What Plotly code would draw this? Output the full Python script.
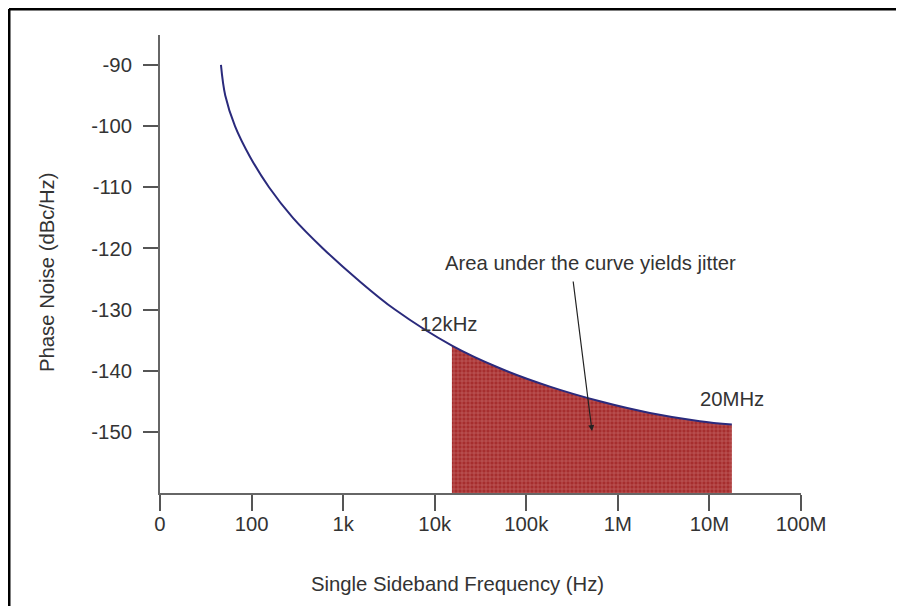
import plotly.graph_objects as go

# Data
freq_hz = [46.3, 51.6, 65.9, 96, 155, 283, 602, 1415, 3677, 15410,
           51500, 181000, 636000, 2.236e6, 7.86e6, 1.756e7]
phase_noise = [-90, -95, -100, -105, -110, -115, -120, -125, -130, -135.9,
               -139.6, -142.6, -145.0, -146.9, -148.25, -148.8]
integration_start_hz = 15410
integration_stop_hz = 1.756e7
x_tickvals = [10, 100, 1e3, 1e4, 1e5, 1e6, 1e7, 1e8]
x_ticktext = ["0", "100", "1k", "10k", "100k", "1M", "10M", "100M"]
y_tickvals = [-150, -140, -130, -120, -110, -100, -90]
y_ticktext = ["-150", "-140", "-130", "-120", "-110", "-100", "-90"]

OFF = 8  # page body margin
W, H = 896, 598
L, R, T, B = 152, 103, 27, 113
PW, PH = W - L - R, H - T - B


def xp(px):
    return (px - OFF - L) / PW


def yp(py):
    return (H - B - (py - OFF)) / PH


FONT = "Liberation Sans, Arial, sans-serif"
FS = 20.3
TXT = "#333333"

band = [(f, p) for f, p in zip(freq_hz, phase_noise)
        if integration_start_hz <= f <= integration_stop_hz]
band_f = [b[0] for b in band]
band_p = [b[1] for b in band]

fig = go.Figure()
# baseline for the shaded integration band
fig.add_trace(go.Scatter(x=[integration_start_hz, integration_stop_hz],
                         y=[-160, -160], mode="lines",
                         line=dict(width=0, color="rgba(0,0,0,0)"),
                         hoverinfo="skip"))
fig.add_trace(go.Scatter(x=band_f, y=band_p, mode="lines",
                         line=dict(width=0, shape="spline", color="rgba(0,0,0,0)"),
                         fill="tonexty", fillcolor="#a83232",
                         fillpattern=dict(shape="+", fgcolor="#e3a0a0",
                                          bgcolor="#a62e2e", size=4, solidity=0.3),
                         hoverinfo="skip"))
fig.add_trace(go.Scatter(x=freq_hz, y=phase_noise, mode="lines",
                         line=dict(color="#2a2a7c", width=2, shape="spline")))

fig.update_layout(
    width=W, height=H, showlegend=False,
    margin=dict(l=L, r=R, t=T, b=B),
    paper_bgcolor="white", plot_bgcolor="white",
    font=dict(family=FONT, size=FS, color=TXT),
    xaxis=dict(type="log", range=[1, 8], tickvals=x_tickvals, ticktext=x_ticktext,
               showgrid=False, zeroline=False, showline=True, linecolor="#666666",
               linewidth=2, ticks="outside", ticklen=16, tickwidth=1.5,
               tickcolor="#555555", ticklabelstandoff=-4,
               tickfont=dict(size=FS, color=TXT)),
    yaxis=dict(range=[-160, -85.1], tickvals=y_tickvals, ticktext=y_ticktext,
               showgrid=False, zeroline=False, showline=True, linecolor="#666666",
               linewidth=2, ticks="outside", ticklen=15, tickwidth=1.5,
               tickcolor="#555555", ticklabelstandoff=7,
               tickfont=dict(size=FS, color=TXT)),
)

ann = [
    dict(text="Single Sideband Frequency (Hz)", x=xp(457), y=yp(584)),
    dict(text="Phase Noise (dBc/Hz)", x=xp(47), y=yp(272), textangle=-90),
    dict(text="12kHz", x=xp(449), y=yp(324)),
    dict(text="20MHz", x=xp(732), y=yp(399)),
    dict(text="Area under the curve yields jitter", x=xp(590), y=yp(263)),
]
for a in ann:
    fig.add_annotation(xref="paper", yref="paper", showarrow=False,
                       xanchor="center", yanchor="middle",
                       font=dict(family=FONT, size=FS, color=TXT), **a)

fig.add_annotation(xref="paper", yref="paper", x=xp(592), y=yp(431), text="",
                   showarrow=True, arrowhead=2, arrowsize=1, arrowwidth=1.2,
                   arrowcolor="#222222", ax=-19, ay=-151)

# outer frame (top and left edges visible in the reference)
fig.add_shape(type="line", xref="paper", yref="paper",
              x0=xp(9), x1=xp(910), y0=yp(9), y1=yp(9),
              line=dict(color="black", width=3))
fig.add_shape(type="line", xref="paper", yref="paper",
              x0=xp(9), x1=xp(9), y0=yp(9), y1=yp(612),
              line=dict(color="black", width=3))

fig.write_html("out.html")
